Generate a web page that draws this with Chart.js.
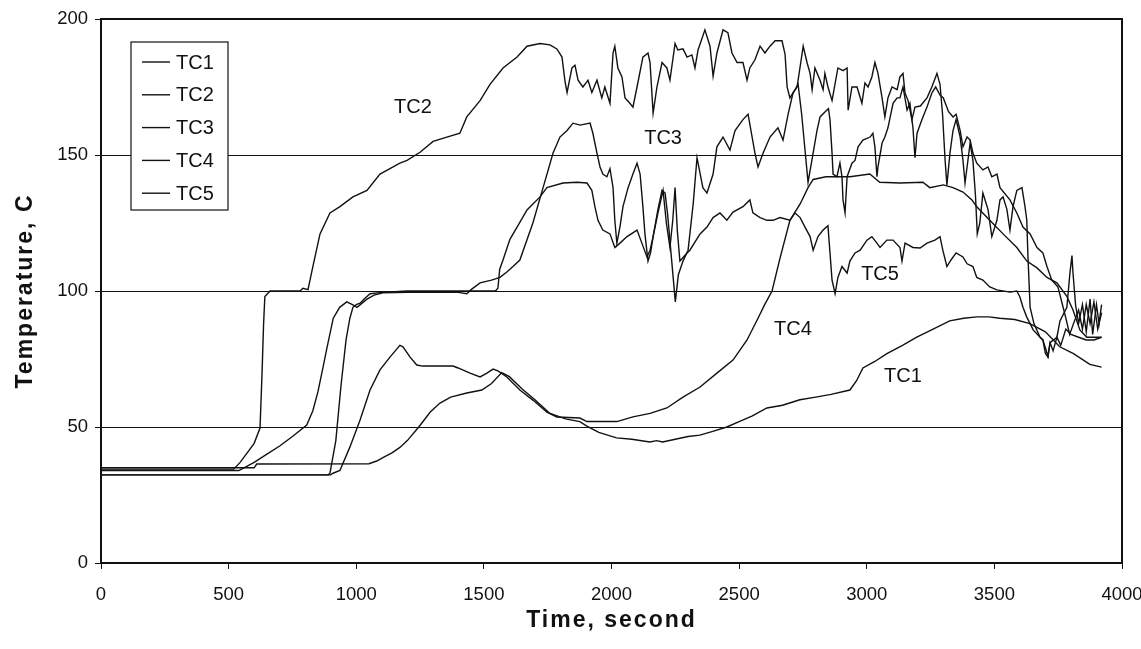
<!DOCTYPE html>
<html>
<head>
<meta charset="utf-8">
<script src="https://cdn.jsdelivr.net/npm/chart.js@4.4.1/dist/chart.umd.min.js"></script>
<style>
html,body{margin:0;padding:0;background:#fff;}
canvas{display:block;}
</style>
</head>
<body>
<canvas id="c" width="1141" height="649"></canvas>
<script>
// ---- data (time in s, temperature in C) ----
const seriesNames = ["TC1", "TC2", "TC3", "TC4", "TC5"];
const xTicks = [0, 500, 1000, 1500, 2000, 2500, 3000, 3500, 4000];
const yTicks = [0, 50, 100, 150, 200];
const xTitle = "Time, second";
const yTitle = "Temperature, C";

const tc1Time = [0,600,610,1050,1080,1110,1140,1171,1200,1245,1290,1328,1370,1433,1492,1530,1570,1600,1650,1700,1759,1820,1876,1902,1950,2020,2080,2150,2177,2200,2250,2300,2346,2400,2452,2500,2550,2609,2670,2738,2800,2860,2934,2960,2985,3030,3079,3140,3196,3260,3325,3380,3431,3480,3521,3580,3639,3700,3756,3810,3874,3920];
const tc1Temp = [35,35,36.4,36.5,37.5,39,40.5,42.5,45,50,55.5,58.8,61,62.5,63.6,66,70,68.5,64,60,55,53,52,50.4,48,46,45.5,44.5,45,44.5,45.5,46.5,47,48.5,50,52,54,57,58,60,61,62,63.6,67,71.7,74,77,80,83,86,89,90,90.5,90.5,90,89.5,88,85,79.5,77,73,72];

const tc2Time = [0,520,545,572,600,623,631,637,642,662,700,780,791,811,830,858,897,936,987,1042,1093,1132,1171,1199,1250,1301,1355,1406,1433,1485,1524,1575,1630,1669,1720,1759,1786,1806,1818,1826,1845,1857,1869,1888,1908,1923,1943,1962,1974,1994,2006,2013,2025,2041,2053,2072,2084,2100,2123,2143,2151,2163,2178,2198,2217,2229,2249,2260,2280,2296,2315,2327,2339,2366,2386,2398,2413,2437,2456,2472,2492,2515,2531,2542,2562,2582,2601,2621,2641,2668,2680,2688,2699,2719,2731,2745,2760,2770,2785,2805,2817,2844,2850,2856,2864,2868,2883,2895,2903,2907,2915,2923,2942,2954,2966,2985,3013,3024,3032,3040,3044,3060,3071,3083,3103,3119,3130,3142,3158,3169,3181,3189,3197,3216,3236,3255,3270,3287,3300,3320,3338,3350,3366,3377,3393,3405,3416,3431,3455,3475,3490,3510,3522,3561,3588,3612,3640,3667,3690,3706,3725,3749,3765,3780,3795,3810,3830,3845,3860,3875,3890,3905,3920];
const tc2Temp = [34.5,34.5,37,40.4,44,49.6,70,88,98,100,100,100,101,100.5,109,121,128.7,131,134.6,137,143,145,147,148,151,155,156.6,158,164,170,176,182,186,190,191,190.5,189,186,177,173,182,183,177.5,175,177.5,173,177.5,171,175,169,187.5,190,182,178.7,171,169,167.6,175,186,187.5,184,165.4,175,184,182,177.5,191,188.6,189,186,186.8,182,188.6,196,190,179,187.5,196,195,187.5,184,184,177.5,182,185,190,187.5,190,192,192,187,175,171,174,176,165,150,140,148,159,164,166.5,167,163,150.7,143,142,147,142,133.5,128.7,142,147,148,153,155.5,156.6,158,153,142,145.6,154.4,156.6,160,169,171,171,175,166.5,169,160,149,158,163,167.6,172.8,175,172,171,166,164,165,159,153,156.6,155.5,150.7,147,144.5,145.6,142,143,138,133.5,128.7,123.5,121,116,114,109,104,101.5,95.6,90,84,88,93,86,95,88,96,86,92];

const tc3Time = [0,540,560,600,650,700,750,806,830,850,870,885,910,935,963,985,1003,1042,1070,1104,1200,1300,1400,1433,1450,1485,1530,1563,1590,1614,1641,1692,1732,1771,1798,1826,1849,1877,1916,1927,1943,1955,1966,1982,1994,2006,2013,2021,2033,2045,2065,2084,2100,2112,2123,2131,2143,2153,2163,2182,2198,2210,2220,2235,2250,2262,2280,2300,2320,2335,2358,2374,2398,2413,2437,2464,2484,2515,2535,2562,2574,2594,2621,2652,2672,2692,2711,2727,2751,2766,2778,2786,2797,2817,2829,2836,2848,2864,2887,2907,2923,2927,2942,2962,2981,2993,3005,3020,3032,3044,3060,3071,3083,3099,3119,3130,3142,3150,3162,3177,3189,3210,3236,3255,3275,3287,3297,3307,3314,3326,3338,3350,3366,3377,3385,3405,3416,3426,3433,3443,3455,3475,3490,3510,3522,3534,3549,3561,3573,3588,3608,3620,3627,3631,3640,3655,3679,3690,3710,3718,3730,3745,3760,3780,3800,3830,3860,3890,3920];
const tc3Temp = [34,34,35,37,40,43,46.5,50.7,56,63,72,79,90,94,96,95,94,97,98.5,99.3,99.5,99.5,99.5,99,100.5,103,104,105,107,109,111.4,125,138,150.7,156.6,159,161.7,161,161.7,158,150.7,145.6,143,142,145,138,126,117.6,123.5,131,138,143,147,143,131,121,111,114,120,130,137,136,128,112,96,106,111,115,132,149,138,136,143,153,156.6,151.8,159,163,165,150.7,145.6,150.7,156.6,160,155.5,165,172.8,175,190,184,180,174,182,177.5,174,180,175,170,182,181,182,166.5,175,175,169,176.5,175,178.7,184,180,171,164,171,175,174,178.7,180,172.8,170,163,167.6,168,171,175,180,176,165,148,139,150.7,159,163,156.6,148,139.7,154.4,148,135,121,125,136,130,120,126,133.5,134.6,130,122.4,131,137,138,131,126,114,94,88,83,82,76,81,78,83,80,86,84,83,82,82,83];

const tc4Time = [0,900,909,936,975,1015,1054,1093,1132,1171,1183,1211,1237,1260,1379,1399,1446,1485,1512,1536,1555,1590,1641,1692,1747,1786,1876,1904,2021,2084,2151,2217,2280,2347,2413,2476,2531,2574,2600,2629,2660,2699,2739,2770,2790,2840,2873,2934,3012,3051,3130,3220,3247,3300,3338,3377,3412,3431,3482,3534,3588,3627,3667,3706,3745,3784,3808,3835,3862,3920];
const tc4Temp = [32.4,32.4,33,34,42.6,52.6,63.6,71,75.7,80,79.5,75.7,72.8,72.4,72.4,71.7,69.8,68.4,69.8,71.3,70.6,68.4,63.6,59.9,55.5,53.7,53.3,52,52,53.7,55,57,61,64.7,69.8,74.6,82,90,95,100,112,126,132,138,141,142,142,142,143,140,139.7,140,138,139,138,136.4,133.5,131,126,121,116,111,108.5,105,103,98,93,85.7,83,83];

const tc5Time = [0,890,897,920,940,960,975,987,1000,1015,1030,1054,1100,1200,1300,1400,1500,1545,1555,1562,1575,1602,1630,1669,1720,1747,1810,1865,1904,1923,1935,1947,1966,1994,2013,2033,2061,2100,2119,2139,2151,2163,2182,2202,2215,2229,2240,2249,2258,2268,2296,2307,2347,2374,2398,2425,2452,2476,2515,2542,2554,2582,2609,2633,2660,2699,2719,2739,2758,2778,2790,2809,2829,2848,2856,2864,2876,2887,2903,2923,2934,2954,2974,3001,3020,3040,3052,3079,3103,3130,3138,3150,3181,3209,3236,3267,3287,3298,3314,3330,3350,3377,3393,3416,3431,3455,3482,3510,3561,3588,3600,3612,3627,3652,3679,3690,3700,3710,3718,3745,3757,3784,3796,3804,3808,3818,3830,3845,3860,3875,3885,3900,3910,3920];
const tc5Temp = [32.4,32.4,33,45,65,82,90,94,95,95.5,97,99,99.5,100,100,100,100,100,101,108,111.4,119,123.5,129.8,134.6,138,139.7,140,139.7,137,131,126,122.4,121,116,117.6,120,122.4,117.6,112.5,115,120,128.7,137,125,116,126,138,122,111,114,115,121,123.5,127,128.7,126,129,131,133.5,128.7,127,126,126,127,126,128.7,127,123.5,120,115,120,122.4,124,114,104,99,105,109,106.6,111,114,115,118.7,120,117.6,116,118.7,118.7,116,111,117.6,116,115.8,117.6,118.7,120,115,109,111.4,114,112.5,110,109,105,104,101.5,100.4,99.6,100,97.8,94,90.4,85.7,83,82,77,75.7,81,83,89,94,106.6,113,106.6,95,88,95,85,97,84,95,88,95];

// label anchors (data units) for the in-plot series names
const noteNames = ["TC2", "TC3", "TC4", "TC5", "TC1"];
const noteTimes = [1222, 2202, 2711, 3052, 3142];
const noteTemps = [167.6, 156, 85.7, 106, 68.4];

const allTimes = [tc1Time, tc2Time, tc3Time, tc4Time, tc5Time];
const allTemps = [tc1Temp, tc2Temp, tc3Temp, tc4Temp, tc5Temp];

const FONT = "'Liberation Sans', Arial, Helvetica, sans-serif";

const datasets = seriesNames.map((name, i) => ({
  label: name,
  data: allTimes[i].map((t, k) => ({x: t, y: allTemps[i][k]})),
  borderColor: '#111',
  borderWidth: 1.4,
  pointRadius: 0,
  tension: 0,
  fill: false
}));

const framePlugin = {
  id: 'frame',
  afterDraw(chart) {
    const {ctx, chartArea: a, scales} = chart;
    ctx.save();
    ctx.strokeStyle = '#111';
    ctx.lineWidth = 2;
    ctx.strokeRect(a.left, a.top, a.right - a.left, a.bottom - a.top);
    ctx.fillStyle = '#111';
    ctx.font = '20px ' + FONT;
    ctx.textAlign = 'center';
    ctx.textBaseline = 'middle';
    noteNames.forEach((n, i) => {
      ctx.fillText(n, scales.x.getPixelForValue(noteTimes[i]), scales.y.getPixelForValue(noteTemps[i]));
    });
    // axis titles
    ctx.font = 'bold 23px ' + FONT;
    if ('letterSpacing' in ctx) ctx.letterSpacing = '2px';
    ctx.fillText(xTitle, (a.left + a.right) / 2, 621);
    ctx.save();
    ctx.translate(26, (a.top + a.bottom) / 2);
    ctx.rotate(-Math.PI / 2);
    ctx.fillText(yTitle, 0, 0);
    ctx.restore();
    if ('letterSpacing' in ctx) ctx.letterSpacing = '0px';
    // legend box
    const bx = a.left + 30, by = a.top + 23, bw = 97, bh = 168;
    ctx.fillStyle = '#fff';
    ctx.fillRect(bx, by, bw, bh);
    ctx.lineWidth = 1.2;
    ctx.strokeStyle = '#111';
    ctx.strokeRect(bx, by, bw, bh);
    ctx.font = '20px ' + FONT;
    ctx.textAlign = 'left';
    ctx.fillStyle = '#111';
    chart.data.datasets.forEach((ds, i) => {
      const yy = by + 20 + i * 32.8;
      ctx.beginPath();
      ctx.lineWidth = 1.4;
      ctx.moveTo(bx + 11, yy);
      ctx.lineTo(bx + 39, yy);
      ctx.stroke();
      ctx.fillText(ds.label, bx + 45, yy + 1);
    });
    ctx.restore();
  }
};

new Chart(document.getElementById('c'), {
  type: 'line',
  data: {datasets},
  plugins: [framePlugin],
  options: {
    responsive: false,
    devicePixelRatio: 1,
    animation: false,
    layout: {padding: {top: 19, right: 19, left: 0, bottom: 0}},
    plugins: {legend: {display: false}, tooltip: {enabled: false}},
    scales: {
      x: {
        type: 'linear',
        min: 0, max: 4000,
        afterFit(s) { s.height = 86; s.paddingRight = 0; s.paddingLeft = 0; },
        afterBuildTicks(s) { s.ticks = xTicks.map(v => ({value: v})); },
        grid: {drawOnChartArea: false, drawTicks: true, tickLength: 6, color: '#111', lineWidth: 1},
        border: {display: true, color: '#111', width: 2},
        ticks: {color: '#111', font: {family: FONT, size: 18.5}, padding: 15, maxRotation: 0, callback: v => String(v)},
        title: {display: false}
      },
      y: {
        type: 'linear',
        min: 0, max: 200,
        afterFit(s) { s.width = 101; },
        afterBuildTicks(s) { s.ticks = yTicks.map(v => ({value: v})); },
        grid: {drawOnChartArea: true, drawTicks: true, tickLength: 6, color: '#111', lineWidth: 1},
        border: {display: true, color: '#111', width: 2},
        ticks: {color: '#111', font: {family: FONT, size: 18.5}, padding: 7, callback: v => String(v)},
        title: {display: false}
      }
    }
  }
});
</script>
</body>
</html>
